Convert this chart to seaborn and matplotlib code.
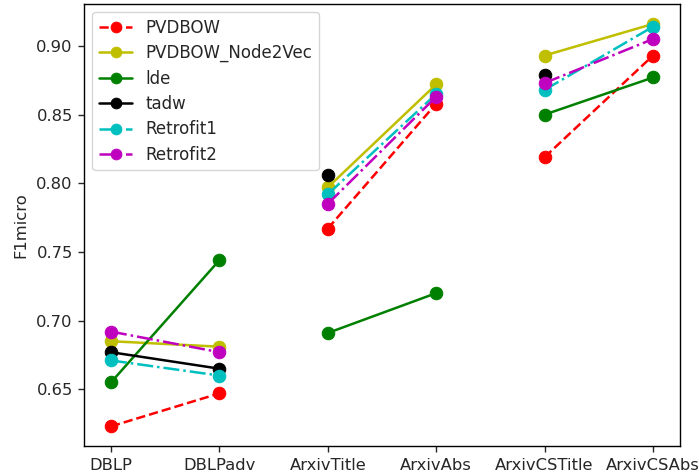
import matplotlib
matplotlib.use("Agg")
import matplotlib.pyplot as plt
import numpy as np
import pandas as pd
import seaborn as sns

datasets = ["DBLP", "DBLPadv", "ArxivTitle", "ArxivAbs", "ArxivCSTitle", "ArxivCSAbs"]

pvdbow = [0.623, 0.647, 0.767, 0.858, 0.819, 0.893]
pvdbow_node2vec = [0.685, 0.681, 0.797, 0.872, 0.893, 0.916]
lde = [0.655, 0.744, 0.691, 0.720, 0.850, 0.877]
tadw = [0.677, 0.665, 0.806, np.nan, 0.879, np.nan]
retrofit1 = [0.671, 0.660, 0.792, 0.865, 0.868, 0.914]
retrofit2 = [0.692, 0.677, 0.785, 0.863, 0.873, 0.905]

methods = ["PVDBOW", "PVDBOW_Node2Vec", "lde", "tadw", "Retrofit1", "Retrofit2"]
scores = [pvdbow, pvdbow_node2vec, lde, tadw, retrofit1, retrofit2]
colors = ["r", "y", "g", "k", "c", "m"]
linestyles = ["--", "-", "-", "-", "-.", "-."]

# each dataset family (title / advanced or abstract) is a separate pair of points
n_pairs = 3

rows = []
for m, vals in zip(methods, scores):
    for i, (ds, v) in enumerate(zip(datasets, vals)):
        rows.append({"method": m, "pos": i, "dataset": ds, "pair": i // 2, "F1micro": v})
df = pd.DataFrame(rows)

sns.set_style("ticks")
plt.rcParams["font.family"] = ["DejaVu Sans"]

FS = 11.8

fig, ax = plt.subplots(figsize=(6.99, 4.76), dpi=100)

for m, c, ls in zip(methods, colors, linestyles):
    sub = df[df["method"] == m]
    first = True
    for p in range(n_pairs):
        seg = sub[sub["pair"] == p].dropna(subset=["F1micro"])
        if seg.empty:
            continue
        sns.lineplot(data=seg, x="pos", y="F1micro", ax=ax, color=c,
                     linestyle=ls, marker="o", markersize=9, markeredgecolor=c,
                     linewidth=1.8, estimator=None, sort=False,
                     label=m if first else None)
        first = False

ax.set_xticks(range(len(datasets)))
ax.set_xticklabels(datasets, fontsize=FS)
ax.tick_params(axis="both", labelsize=FS, length=4.5, width=1.0)
ax.set_xlabel("")
ax.set_ylabel("F1micro", fontsize=FS, labelpad=6)
ax.yaxis.set_major_formatter(matplotlib.ticker.FormatStrFormatter("%.2f"))
ax.margins(x=0.05, y=0.05)

for s in ax.spines.values():
    s.set_visible(True)
    s.set_color("black")
    s.set_linewidth(1.0)

ax.legend(loc="upper left", fontsize=12, frameon=True, labelspacing=0.44,
          markerscale=0.85)

fig.subplots_adjust(left=0.12, right=0.973, bottom=0.062, top=0.992)
fig.savefig("out.png", dpi=100)
